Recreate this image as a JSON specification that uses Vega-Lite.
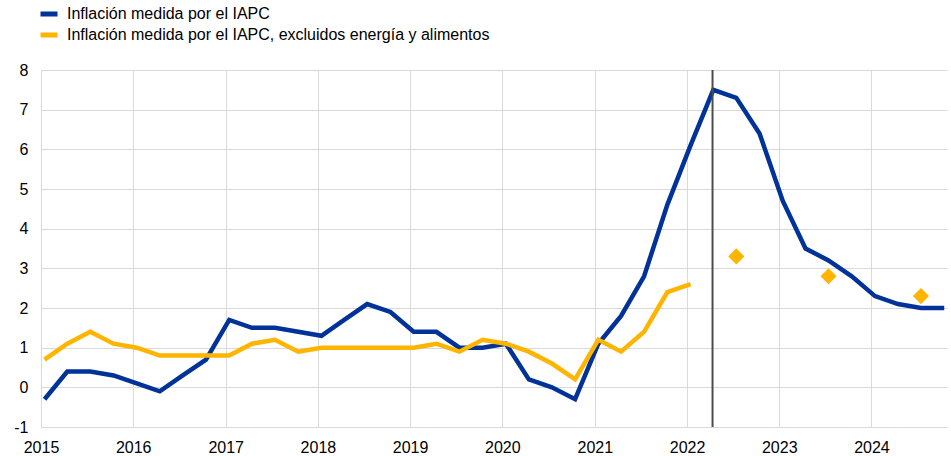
{
  "$schema": "https://vega.github.io/schema/vega-lite/v6.json",
  "width": 906,
  "height": 357,
  "autosize": {"type": "none"},
  "padding": {"left": 41, "top": 70, "right": 4, "bottom": 29},
  "background": "white",
  "config": {
    "view": {"stroke": null},
    "font": "Liberation Sans",
    "axis": {
      "grid": true,
      "gridColor": "#d9d9d9",
      "gridWidth": 1,
      "domain": false,
      "ticks": false,
      "labelFontSize": 16,
      "labelColor": "#000000",
      "labelOverlap": false,
      "title": null
    },
    "legend": {
      "orient": "none",
      "legendX": -3,
      "legendY": -67,
      "padding": 0,
      "labelFontSize": 16,
      "labelColor": "#000000",
      "labelOffset": 7,
      "symbolType": "stroke",
      "symbolStrokeWidth": 5,
      "symbolSize": 289,
      "rowPadding": 0,
      "labelLimit": 600,
      "title": null
    }
  },
  "datasets": {
    "series": [
      {"date": "2015-01-15", "series": "Inflación medida por el IAPC", "value": -0.3},
      {"date": "2015-04-15", "series": "Inflación medida por el IAPC", "value": 0.4},
      {"date": "2015-07-15", "series": "Inflación medida por el IAPC", "value": 0.4},
      {"date": "2015-10-15", "series": "Inflación medida por el IAPC", "value": 0.3},
      {"date": "2016-01-15", "series": "Inflación medida por el IAPC", "value": 0.1},
      {"date": "2016-04-15", "series": "Inflación medida por el IAPC", "value": -0.1},
      {"date": "2016-07-15", "series": "Inflación medida por el IAPC", "value": 0.3},
      {"date": "2016-10-15", "series": "Inflación medida por el IAPC", "value": 0.7},
      {"date": "2017-01-15", "series": "Inflación medida por el IAPC", "value": 1.7},
      {"date": "2017-04-15", "series": "Inflación medida por el IAPC", "value": 1.5},
      {"date": "2017-07-15", "series": "Inflación medida por el IAPC", "value": 1.5},
      {"date": "2017-10-15", "series": "Inflación medida por el IAPC", "value": 1.4},
      {"date": "2018-01-15", "series": "Inflación medida por el IAPC", "value": 1.3},
      {"date": "2018-04-15", "series": "Inflación medida por el IAPC", "value": 1.7},
      {"date": "2018-07-15", "series": "Inflación medida por el IAPC", "value": 2.1},
      {"date": "2018-10-15", "series": "Inflación medida por el IAPC", "value": 1.9},
      {"date": "2019-01-15", "series": "Inflación medida por el IAPC", "value": 1.4},
      {"date": "2019-04-15", "series": "Inflación medida por el IAPC", "value": 1.4},
      {"date": "2019-07-15", "series": "Inflación medida por el IAPC", "value": 1.0},
      {"date": "2019-10-15", "series": "Inflación medida por el IAPC", "value": 1.0},
      {"date": "2020-01-15", "series": "Inflación medida por el IAPC", "value": 1.1},
      {"date": "2020-04-15", "series": "Inflación medida por el IAPC", "value": 0.2},
      {"date": "2020-07-15", "series": "Inflación medida por el IAPC", "value": 0.0},
      {"date": "2020-10-15", "series": "Inflación medida por el IAPC", "value": -0.3},
      {"date": "2021-01-15", "series": "Inflación medida por el IAPC", "value": 1.1},
      {"date": "2021-04-15", "series": "Inflación medida por el IAPC", "value": 1.8},
      {"date": "2021-07-15", "series": "Inflación medida por el IAPC", "value": 2.8},
      {"date": "2021-10-15", "series": "Inflación medida por el IAPC", "value": 4.6},
      {"date": "2022-01-15", "series": "Inflación medida por el IAPC", "value": 6.1},
      {"date": "2022-04-15", "series": "Inflación medida por el IAPC", "value": 7.5},
      {"date": "2022-07-15", "series": "Inflación medida por el IAPC", "value": 7.3},
      {"date": "2022-10-15", "series": "Inflación medida por el IAPC", "value": 6.4},
      {"date": "2023-01-15", "series": "Inflación medida por el IAPC", "value": 4.7},
      {"date": "2023-04-15", "series": "Inflación medida por el IAPC", "value": 3.5},
      {"date": "2023-07-15", "series": "Inflación medida por el IAPC", "value": 3.2},
      {"date": "2023-10-15", "series": "Inflación medida por el IAPC", "value": 2.8},
      {"date": "2024-01-15", "series": "Inflación medida por el IAPC", "value": 2.3},
      {"date": "2024-04-15", "series": "Inflación medida por el IAPC", "value": 2.1},
      {"date": "2024-07-15", "series": "Inflación medida por el IAPC", "value": 2.0},
      {"date": "2024-10-15", "series": "Inflación medida por el IAPC", "value": 2.0},
      {"date": "2015-01-15", "series": "Inflación medida por el IAPC, excluidos energía y alimentos", "value": 0.7},
      {"date": "2015-04-15", "series": "Inflación medida por el IAPC, excluidos energía y alimentos", "value": 1.1},
      {"date": "2015-07-15", "series": "Inflación medida por el IAPC, excluidos energía y alimentos", "value": 1.4},
      {"date": "2015-10-15", "series": "Inflación medida por el IAPC, excluidos energía y alimentos", "value": 1.1},
      {"date": "2016-01-15", "series": "Inflación medida por el IAPC, excluidos energía y alimentos", "value": 1.0},
      {"date": "2016-04-15", "series": "Inflación medida por el IAPC, excluidos energía y alimentos", "value": 0.8},
      {"date": "2016-07-15", "series": "Inflación medida por el IAPC, excluidos energía y alimentos", "value": 0.8},
      {"date": "2016-10-15", "series": "Inflación medida por el IAPC, excluidos energía y alimentos", "value": 0.8},
      {"date": "2017-01-15", "series": "Inflación medida por el IAPC, excluidos energía y alimentos", "value": 0.8},
      {"date": "2017-04-15", "series": "Inflación medida por el IAPC, excluidos energía y alimentos", "value": 1.1},
      {"date": "2017-07-15", "series": "Inflación medida por el IAPC, excluidos energía y alimentos", "value": 1.2},
      {"date": "2017-10-15", "series": "Inflación medida por el IAPC, excluidos energía y alimentos", "value": 0.9},
      {"date": "2018-01-15", "series": "Inflación medida por el IAPC, excluidos energía y alimentos", "value": 1.0},
      {"date": "2018-04-15", "series": "Inflación medida por el IAPC, excluidos energía y alimentos", "value": 1.0},
      {"date": "2018-07-15", "series": "Inflación medida por el IAPC, excluidos energía y alimentos", "value": 1.0},
      {"date": "2018-10-15", "series": "Inflación medida por el IAPC, excluidos energía y alimentos", "value": 1.0},
      {"date": "2019-01-15", "series": "Inflación medida por el IAPC, excluidos energía y alimentos", "value": 1.0},
      {"date": "2019-04-15", "series": "Inflación medida por el IAPC, excluidos energía y alimentos", "value": 1.1},
      {"date": "2019-07-15", "series": "Inflación medida por el IAPC, excluidos energía y alimentos", "value": 0.9},
      {"date": "2019-10-15", "series": "Inflación medida por el IAPC, excluidos energía y alimentos", "value": 1.2},
      {"date": "2020-01-15", "series": "Inflación medida por el IAPC, excluidos energía y alimentos", "value": 1.1},
      {"date": "2020-04-15", "series": "Inflación medida por el IAPC, excluidos energía y alimentos", "value": 0.9},
      {"date": "2020-07-15", "series": "Inflación medida por el IAPC, excluidos energía y alimentos", "value": 0.6},
      {"date": "2020-10-15", "series": "Inflación medida por el IAPC, excluidos energía y alimentos", "value": 0.2},
      {"date": "2021-01-15", "series": "Inflación medida por el IAPC, excluidos energía y alimentos", "value": 1.2},
      {"date": "2021-04-15", "series": "Inflación medida por el IAPC, excluidos energía y alimentos", "value": 0.9},
      {"date": "2021-07-15", "series": "Inflación medida por el IAPC, excluidos energía y alimentos", "value": 1.4},
      {"date": "2021-10-15", "series": "Inflación medida por el IAPC, excluidos energía y alimentos", "value": 2.4},
      {"date": "2022-01-15", "series": "Inflación medida por el IAPC, excluidos energía y alimentos", "value": 2.6}
    ],
    "projections": [
      {"date": "2022-07-15", "value": 3.3},
      {"date": "2023-07-15", "value": 2.8},
      {"date": "2024-07-15", "value": 2.3}
    ],
    "marker": [
      {"date": "2022-04-12"}
    ]
  },
  "layer": [
    {
      "data": {"name": "series"},
      "mark": {"type": "line", "strokeWidth": 4.5},
      "encoding": {
        "x": {
          "field": "date",
          "type": "temporal",
          "scale": {"type": "utc", "domain": ["2015-01-01", "2024-10-26"]},
          "axis": {
            "format": "%Y",
            "tickCount": {"interval": "year", "step": 1},
            "labelPadding": 12,
            "labelFlush": false
          }
        },
        "y": {
          "field": "value",
          "type": "quantitative",
          "scale": {"domain": [-1, 8], "nice": false, "zero": false},
          "axis": {
            "values": [-1, 0, 1, 2, 3, 4, 5, 6, 7, 8],
            "tickCount": 20,
            "labelExpr": "datum.value + ''",
            "labelPadding": 13
          }
        },
        "color": {
          "field": "series",
          "type": "nominal",
          "scale": {
            "domain": ["Inflación medida por el IAPC", "Inflación medida por el IAPC, excluidos energía y alimentos"],
            "range": ["#003299", "#FFB400"]
          }
        }
      }
    },
    {
      "data": {"name": "marker"},
      "mark": {"type": "rule", "color": "#4d4d4d", "strokeWidth": 2},
      "encoding": {
        "x": {"field": "date", "type": "temporal"}
      }
    },
    {
      "data": {"name": "projections"},
      "mark": {"type": "point", "shape": "diamond", "filled": true, "size": 260, "color": "#FFB400", "opacity": 1},
      "encoding": {
        "x": {"field": "date", "type": "temporal"},
        "y": {"field": "value", "type": "quantitative"}
      }
    }
  ]
}
